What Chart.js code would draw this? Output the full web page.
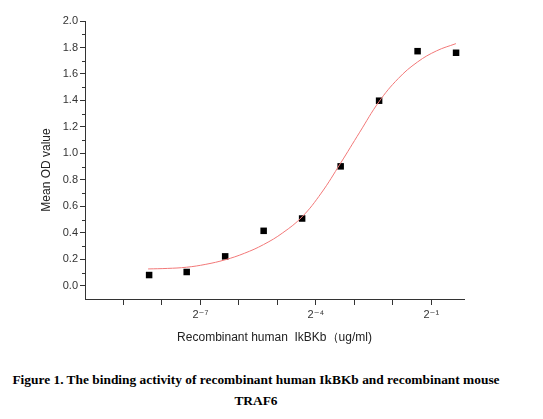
<!DOCTYPE html>
<html>
<head>
<meta charset="utf-8">
<script src="https://cdn.jsdelivr.net/npm/chart.js@4"></script>
<style>
  body { margin: 0; background: #fff; }
  #wrap { position: absolute; left: 0; top: 0; width: 543px; height: 349px; }
  #caption {
    position: absolute; left: 0; top: 369px; width: 512px;
    text-align: center; font: bold 13.4px "Liberation Serif", "Times New Roman", serif;
    line-height: 21px; color: #000;
  }
</style>
</head>
<body>
<div id="wrap"><canvas id="chart"></canvas></div>
<div id="caption">Figure 1. The binding activity of recombinant human IkBKb and recombinant mouse<br>TRAF6</div>
<script>
// measured points (ug/ml -> mean OD)
const concentrations = [0.0031, 0.0061, 0.0122, 0.0244, 0.0488, 0.0977, 0.1953, 0.3906, 0.7813];
const meanOD = [0.081, 0.104, 0.222, 0.415, 0.508, 0.902, 1.398, 1.772, 1.760];

// fitted curve (x as log2 of concentration)
const curveLog2 = [-8.36, -7.86, -7.36, -6.86, -6.36, -5.86, -5.36, -4.86, -4.36, -3.86, -3.36, -2.86, -2.36, -1.86, -1.36, -0.86, -0.36];
const curveOD = [0.127, 0.131, 0.140, 0.162, 0.196, 0.245, 0.311, 0.40, 0.52, 0.70, 0.925, 1.16, 1.39, 1.565, 1.69, 1.775, 1.829];

// tick exponents on the x axis, and which ones get a label
const xTickExp = [-10, -9, -8, -7, -6, -5, -4, -3, -2, -1];
const xLabelExp = [-7, -4, -1];

const xTitle = 'Recombinant human  IkBKb（ug/ml)';
const yTitle = 'Mean OD value';

const sup = {'-': '\u207B', '0': '\u2070', '1': '\u00B9', '2': '\u00B2', '3': '\u00B3', '4': '\u2074', '5': '\u2075', '6': '\u2076', '7': '\u2077', '8': '\u2078', '9': '\u2079'};
function powLabel(e){
  return '2' + String(e).split('').map(c => sup[c]).join('');
}

const pts = concentrations.map((c, i) => ({x: c, y: meanOD[i]}));
const curve = curveLog2.map((e, i) => ({x: Math.pow(2, e), y: curveOD[i]}));

// short minor ticks on y and rotated y title
const extras = {
  id: 'extras',
  afterDraw(chart){
    const ctx = chart.ctx, ys = chart.scales.y;
    ctx.save();
    ctx.strokeStyle = '#333';
    ctx.lineWidth = 1;
    ys.ticks.forEach(t => {
      const k = Math.round(t.value * 10);
      if (k < 0 || k % 2 === 0) return;
      const py = Math.round(ys.getPixelForValue(t.value)) + 0.5;
      ctx.beginPath();
      ctx.moveTo(ys.right - 3, py);
      ctx.lineTo(ys.right, py);
      ctx.stroke();
    });
    ctx.fillStyle = '#222';
    ctx.font = '12px "Liberation Sans", Arial, sans-serif';
    ctx.textAlign = 'center';
    ctx.textBaseline = 'middle';
    ctx.translate(47, 170);
    ctx.rotate(-Math.PI / 2);
    ctx.fillText(yTitle, 0, 0);
    ctx.restore();
  }
};

new Chart(document.getElementById('chart'), {
  type: 'scatter',
  data: {
    datasets: [{
      type: 'line',
      data: curve,
      borderColor: 'rgb(242,120,120)',
      borderWidth: 1,
      pointRadius: 0,
      tension: 0.4,
      fill: false
    }, {
      data: pts,
      pointStyle: 'rect',
      pointRadius: 4.6,
      backgroundColor: '#000',
      borderColor: '#000',
      borderWidth: 0
    }]
  },
  options: {
    responsive: true,
    maintainAspectRatio: false,
    animation: false,
    layout: { padding: { left: 0, right: 79, top: 21, bottom: 0 } },
    plugins: { legend: { display: false }, tooltip: { enabled: false } },
    scales: {
      x: {
        type: 'logarithmic',
        min: Math.pow(2, -10),
        max: Math.pow(2, -0.15),
        afterBuildTicks(scale){
          scale.ticks = xTickExp.map(e => ({value: Math.pow(2, e)}));
        },
        afterFit(scale){ scale.height = 50; },
        border: { color: '#333', width: 1 },
        grid: {
          drawOnChartArea: false,
          tickLength: 6,
          tickColor: ctx => (ctx.tick && Math.round(Math.log2(ctx.tick.value)) === -10) ? 'rgba(0,0,0,0)' : '#333'
        },
        ticks: {
          autoSkip: false,
          maxRotation: 0,
          padding: 3,
          color: '#333',
          font: { family: '"Liberation Sans", "DejaVu Sans", Arial, sans-serif', size: 11 },
          callback(v){
            const e = Math.round(Math.log2(v));
            return xLabelExp.includes(e) ? powLabel(e) : '';
          }
        },
        title: {
          display: true,
          text: xTitle,
          color: '#222',
          font: { family: '"Liberation Sans", Arial, sans-serif', size: 12 },
          padding: { top: 4, bottom: 4 }
        }
      },
      y: {
        min: -0.1,
        max: 2.0,
        afterFit(scale){ scale.width = 85; },
        border: { color: '#333', width: 1 },
        grid: {
          drawOnChartArea: false,
          tickLength: 5,
          tickColor: ctx => {
            const k = ctx.tick ? Math.round(ctx.tick.value * 10) : 1;
            return (k >= 0 && k % 2 === 0) ? '#333' : 'rgba(0,0,0,0)';
          }
        },
        ticks: {
          stepSize: 0.1,
          autoSkip: false,
          padding: 2,
          color: '#333',
          font: { family: '"Liberation Sans", Arial, sans-serif', size: 11 },
          callback(v){
            const k = Math.round(v * 10);
            return (k >= 0 && k % 2 === 0) ? (k / 10).toFixed(1) : '';
          }
        }
      }
    }
  },
  plugins: [extras]
});
</script>
</body>
</html>
